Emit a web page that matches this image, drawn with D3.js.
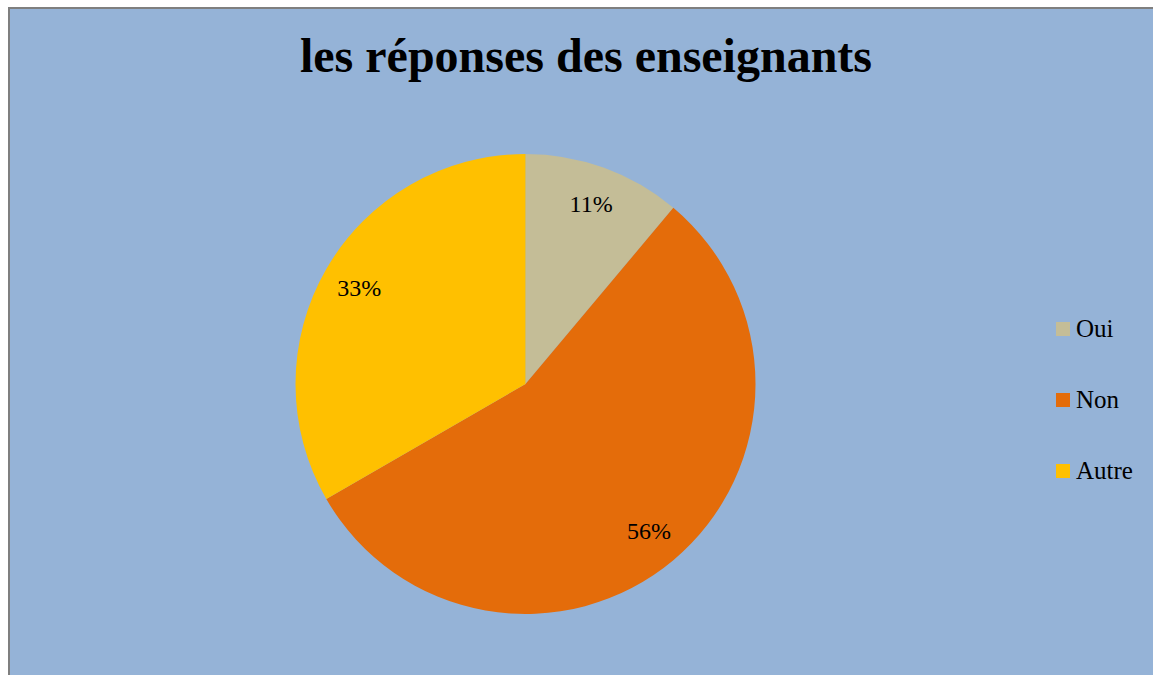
<!DOCTYPE html>
<html><head><meta charset="utf-8">
<script src="https://cdn.jsdelivr.net/npm/d3@7"></script>
<style>html,body{margin:0;padding:0;background:#fff;overflow:hidden}</style>
</head><body>
<svg id="c" width="1153" height="675"></svg>
<script>
const categories = ["Oui", "Non", "Autre"];
const values = [1, 5, 3];
const labels = ["11%", "56%", "33%"];
const colors = ["#C4BD97", "#E46C0A", "#FFC000"];
const title = "les réponses des enseignants";

const svg = d3.select("#c");
svg.append("rect").attr("x", 9).attr("y", 8).attr("width", 1200).attr("height", 700)
  .attr("fill", "#95B3D7").attr("stroke", "#7F7F7F").attr("stroke-width", 2);

svg.append("text").attr("x", 586).attr("y", 72).attr("text-anchor", "middle")
  .attr("font-family", "Liberation Serif, Times New Roman, serif").attr("font-weight", "bold")
  .attr("font-size", 48).attr("fill", "#000").text(title);

const cx = 525.5, cy = 384, R = 230;
const pie = d3.pie().sort(null).value(d => d);
const arcs = pie(values);
const arc = d3.arc().innerRadius(0).outerRadius(R);
const labelArc = d3.arc().innerRadius(192).outerRadius(192);
const color = d3.scaleOrdinal().domain(categories).range(colors);

const g = svg.append("g").attr("transform", `translate(${cx},${cy})`);
g.selectAll("path").data(arcs).enter().append("path")
  .attr("d", arc).attr("fill", (d, i) => color(categories[i]));
g.selectAll("text").data(arcs).enter().append("text")
  .attr("transform", d => `translate(${labelArc.centroid(d)})`)
  .attr("text-anchor", "middle").attr("dy", "0.33em")
  .attr("font-family", "Liberation Serif, Times New Roman, serif").attr("font-size", 24)
  .text((d, i) => labels[i]);

const legendY = d3.scalePoint().domain(categories).range([329, 471]);
const lg = svg.append("g");
categories.forEach(c => {
  lg.append("rect").attr("x", 1056).attr("y", legendY(c) - 7).attr("width", 14).attr("height", 14)
    .attr("fill", color(c));
  lg.append("text").attr("x", 1076).attr("y", legendY(c)).attr("dy", "0.33em")
    .attr("font-family", "Liberation Serif, Times New Roman, serif").attr("font-size", 25)
    .text(c);
});
</script>
</body></html>
